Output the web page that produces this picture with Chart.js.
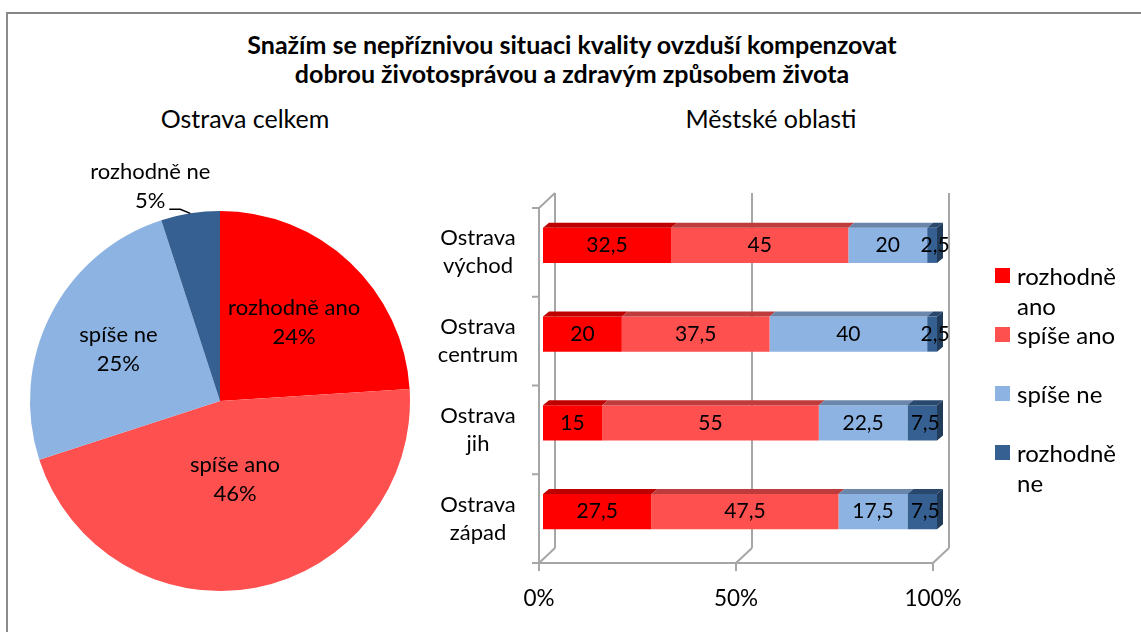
<!DOCTYPE html>
<html><head><meta charset="utf-8">
<script src="https://cdn.jsdelivr.net/npm/chart.js@4/dist/chart.umd.min.js"></script>
<style>
html,body{margin:0;padding:0;background:#fff;overflow:hidden;}
#wrap{position:relative;width:1141px;height:632px;overflow:hidden;font-family:Lato,"Open Sans",sans-serif;color:#000;}
#frame{position:absolute;left:6px;top:12px;width:1300px;height:900px;border-top:2px solid #868686;border-left:2px solid #8c8c8c;box-sizing:border-box;}
#title{position:absolute;left:0;top:30px;width:1144px;text-align:center;font-weight:bold;font-size:25px;line-height:29px;}
.sub{position:absolute;top:103px;font-size:25px;line-height:30px;text-align:center;width:300px;}
canvas{position:absolute;}
#legend{position:absolute;left:995px;top:0;}
.li{position:absolute;left:0;width:146px;}
.sw{position:absolute;left:0;top:7px;width:15px;height:15px;}
.lt{position:absolute;left:22px;top:0;width:118px;font-size:24px;line-height:30px;}
</style></head>
<body>
<div id="wrap">
  <div id="frame"></div>
  <div id="title">Snažím se nepříznivou situaci kvality ovzduší kompenzovat<br>dobrou životosprávou a zdravým způsobem života</div>
  <div class="sub" style="left:95px">Ostrava celkem</div>
  <div class="sub" style="left:621px">Městské oblasti</div>
  <canvas id="pie" width="440" height="470" style="left:0;top:140px"></canvas>
  <canvas id="bar" width="720" height="480" style="left:420px;top:140px"></canvas>
  <div id="legend"></div>
</div>
<script>
// ---- data ----
const seriesNames = ['rozhodně ano', 'spíše ano', 'spíše ne', 'rozhodně ne'];
const seriesColors = ['#FF0000', '#FF5050', '#8DB3E2', '#366092'];
const pieValues = [24, 46, 25, 5];
const categories = ['Ostrava východ', 'Ostrava centrum', 'Ostrava jih', 'Ostrava západ'];
const rozhodneAno = [32.5, 20, 15, 27.5];
const spiseAno = [45, 37.5, 55, 47.5];
const spiseNe = [20, 40, 22.5, 17.5];
const rozhodneNe = [2.5, 2.5, 7.5, 7.5];
const xTicks = [0, 50, 100];

const FONT = 'Lato, "Open Sans", sans-serif';
Chart.defaults.font.family = FONT;

function shade(hex, f) {
  const n = parseInt(hex.slice(1), 16);
  const r = Math.round(((n >> 16) & 255) * f), g = Math.round(((n >> 8) & 255) * f), b = Math.round((n & 255) * f);
  return 'rgb(' + r + ',' + g + ',' + b + ')';
}

// ---- pie ----
const pieLabelRadius = [0.57, 0.42, 0.6, 1];
const pieLabelPlugin = {
  id: 'pieLabels',
  afterDatasetsDraw(chart) {
    const ctx = chart.ctx;
    const meta = chart.getDatasetMeta(0);
    ctx.save();
    ctx.font = '22px ' + FONT;
    ctx.fillStyle = '#000';
    ctx.textAlign = 'center';
    ctx.textBaseline = 'middle';
    meta.data.forEach((arc, i) => {
      const p = arc.getProps(['x', 'y', 'startAngle', 'endAngle', 'outerRadius'], true);
      const mid = (p.startAngle + p.endAngle) / 2;
      const lines = [chart.data.labels[i], chart.data.datasets[0].data[i] + '%'];
      if (pieLabelRadius[i] < 1) {
        const f = pieLabelRadius[i] * p.outerRadius;
        const cx = p.x + Math.cos(mid) * f, cy = p.y + Math.sin(mid) * f;
        ctx.fillText(lines[0], cx, cy - 14.5);
        ctx.fillText(lines[1], cx, cy + 14.5);
      } else {
        const ex = p.x + Math.cos(mid) * p.outerRadius, ey = p.y + Math.sin(mid) * p.outerRadius;
        const bx = ex - 10, by = ey - 4, sx = bx - 11;
        ctx.strokeStyle = '#000'; ctx.lineWidth = 1.5;
        ctx.beginPath(); ctx.moveTo(ex, ey); ctx.lineTo(bx, by); ctx.lineTo(sx, by); ctx.stroke();
        ctx.fillText(lines[1], sx - 19, by - 8);
        ctx.fillText(lines[0], sx - 19, by - 37);
      }
    });
    ctx.restore();
  }
};

new Chart(document.getElementById('pie'), {
  type: 'pie',
  data: {
    labels: seriesNames,
    datasets: [{ data: pieValues, backgroundColor: seriesColors, borderWidth: 0, hoverOffset: 0, offset: 0 }]
  },
  options: {
    responsive: false, animation: false, events: [],
    layout: { padding: { left: 30, right: 30, top: 71, bottom: 19 } },
    plugins: { legend: { display: false }, tooltip: { enabled: false } }
  },
  plugins: [pieLabelPlugin]
});

// ---- bar ----
const F = { dx: -4, dy: 7 }, B = { dx: 12, dy: -8 }, TOP = { dx: 6, dy: 5 };
const barPlugin = {
  id: 'bar3d',
  beforeDatasetsDraw(chart) {
    const { ctx, chartArea: a, scales: { x, y } } = chart;
    ctx.save();
    ctx.strokeStyle = '#a6a6a6'; ctx.lineWidth = 2;
    const line = (x1, y1, x2, y2) => { ctx.beginPath(); ctx.moveTo(x1, y1); ctx.lineTo(x2, y2); ctx.stroke(); };
    const x0 = x.getPixelForValue(xTicks[0]), x1 = x.getPixelForValue(xTicks[xTicks.length - 1]);
    xTicks.forEach(v => {
      const px = x.getPixelForValue(v);
      line(px + B.dx, a.top + B.dy, px + B.dx, a.bottom + B.dy);
      line(px + F.dx, a.bottom + F.dy, px + B.dx, a.bottom + B.dy);
      line(px + F.dx, a.bottom + F.dy, px + F.dx, a.bottom + F.dy + 8);
    });
    line(x0 + F.dx, a.top + F.dy, x0 + F.dx, a.bottom + F.dy);
    line(x0 + F.dx, a.top + F.dy, x0 + B.dx, a.top + B.dy);
    line(x0 + F.dx - 1, a.bottom + F.dy, x1 + F.dx + 1, a.bottom + F.dy);
    const n = categories.length, band = (a.bottom - a.top) / n;
    for (let i = 0; i <= n; i++) {
      const yy = a.top + i * band + F.dy;
      line(x0 + F.dx - 7, yy, x0 + F.dx, yy);
    }
    // tick labels
    ctx.fillStyle = '#000';
    ctx.font = '22.5px ' + FONT;
    ctx.textAlign = 'center'; ctx.textBaseline = 'middle';
    xTicks.forEach(v => ctx.fillText(v + '%', x.getPixelForValue(v) + F.dx, a.bottom + F.dy + 36));
    ctx.font = '22px ' + FONT;
    const labelX = x0 + F.dx - 61;
    categories.forEach((c, i) => {
      const parts = c.split(' ');
      const cy = y.getPixelForValue(i) + F.dy;
      ctx.fillText(parts[0], labelX, cy - 14);
      ctx.fillText(parts[1], labelX, cy + 14);
    });
    ctx.restore();
  },
  afterDatasetsDraw(chart) {
    const ctx = chart.ctx;
    ctx.save();
    const nds = chart.data.datasets.length;
    chart.data.datasets.forEach((ds, di) => {
      const meta = chart.getDatasetMeta(di);
      meta.data.forEach((el) => {
        const p = el.getProps(['x', 'y', 'base', 'height'], true);
        const l = Math.min(p.x, p.base), r = Math.max(p.x, p.base);
        const t = p.y - p.height / 2, b = p.y + p.height / 2;
        ctx.fillStyle = shade(ds.backgroundColor, 0.75);
        ctx.beginPath();
        ctx.moveTo(l, t); ctx.lineTo(r, t); ctx.lineTo(r + TOP.dx, t - TOP.dy); ctx.lineTo(l + TOP.dx, t - TOP.dy);
        ctx.closePath(); ctx.fill();
        if (di === nds - 1) {
          ctx.fillStyle = shade(ds.backgroundColor, 0.62);
          ctx.beginPath();
          ctx.moveTo(r, t); ctx.lineTo(r + TOP.dx, t - TOP.dy); ctx.lineTo(r + TOP.dx, b - TOP.dy); ctx.lineTo(r, b);
          ctx.closePath(); ctx.fill();
        }
      });
    });
    ctx.fillStyle = '#000';
    ctx.font = '21px ' + FONT;
    ctx.textAlign = 'center'; ctx.textBaseline = 'middle';
    chart.data.datasets.forEach((ds, di) => {
      const meta = chart.getDatasetMeta(di);
      meta.data.forEach((el, i) => {
        const p = el.getProps(['x', 'y', 'base'], true);
        const cx = (p.x + p.base) / 2;
        ctx.fillText(String(ds.data[i]).replace('.', ','), cx + (di === nds - 1 ? 3 : 0), p.y);
      });
    });
    ctx.restore();
  }
};

const barSeries = [rozhodneAno, spiseAno, spiseNe, rozhodneNe];
const barChart = new Chart(document.getElementById('bar'), {
  type: 'bar',
  data: {
    labels: categories,
    datasets: barSeries.map((d, i) => ({
      label: seriesNames[i], data: d, backgroundColor: seriesColors[i], borderWidth: 0,
      categoryPercentage: 1, barPercentage: 0.395
    }))
  },
  options: {
    indexAxis: 'y', responsive: false, animation: false, events: [],
    layout: { padding: { left: 123, right: 203, top: 61, bottom: 64 } },
    scales: {
      x: { stacked: true, min: 0, max: 100, display: false },
      y: { stacked: true, display: false }
    },
    plugins: { legend: { display: false }, tooltip: { enabled: false } }
  },
  plugins: [barPlugin]
});

// ---- legend ----
const lg = document.getElementById('legend');
barChart.data.datasets.forEach((ds, i) => {
  const it = document.createElement('div');
  it.className = 'li';
  it.style.top = (261 + i * 59) + 'px';
  const sw = document.createElement('div'); sw.className = 'sw'; sw.style.background = ds.backgroundColor;
  const tx = document.createElement('div'); tx.className = 'lt'; tx.textContent = ds.label;
  it.appendChild(sw); it.appendChild(tx); lg.appendChild(it);
});
</script>
</body></html>
